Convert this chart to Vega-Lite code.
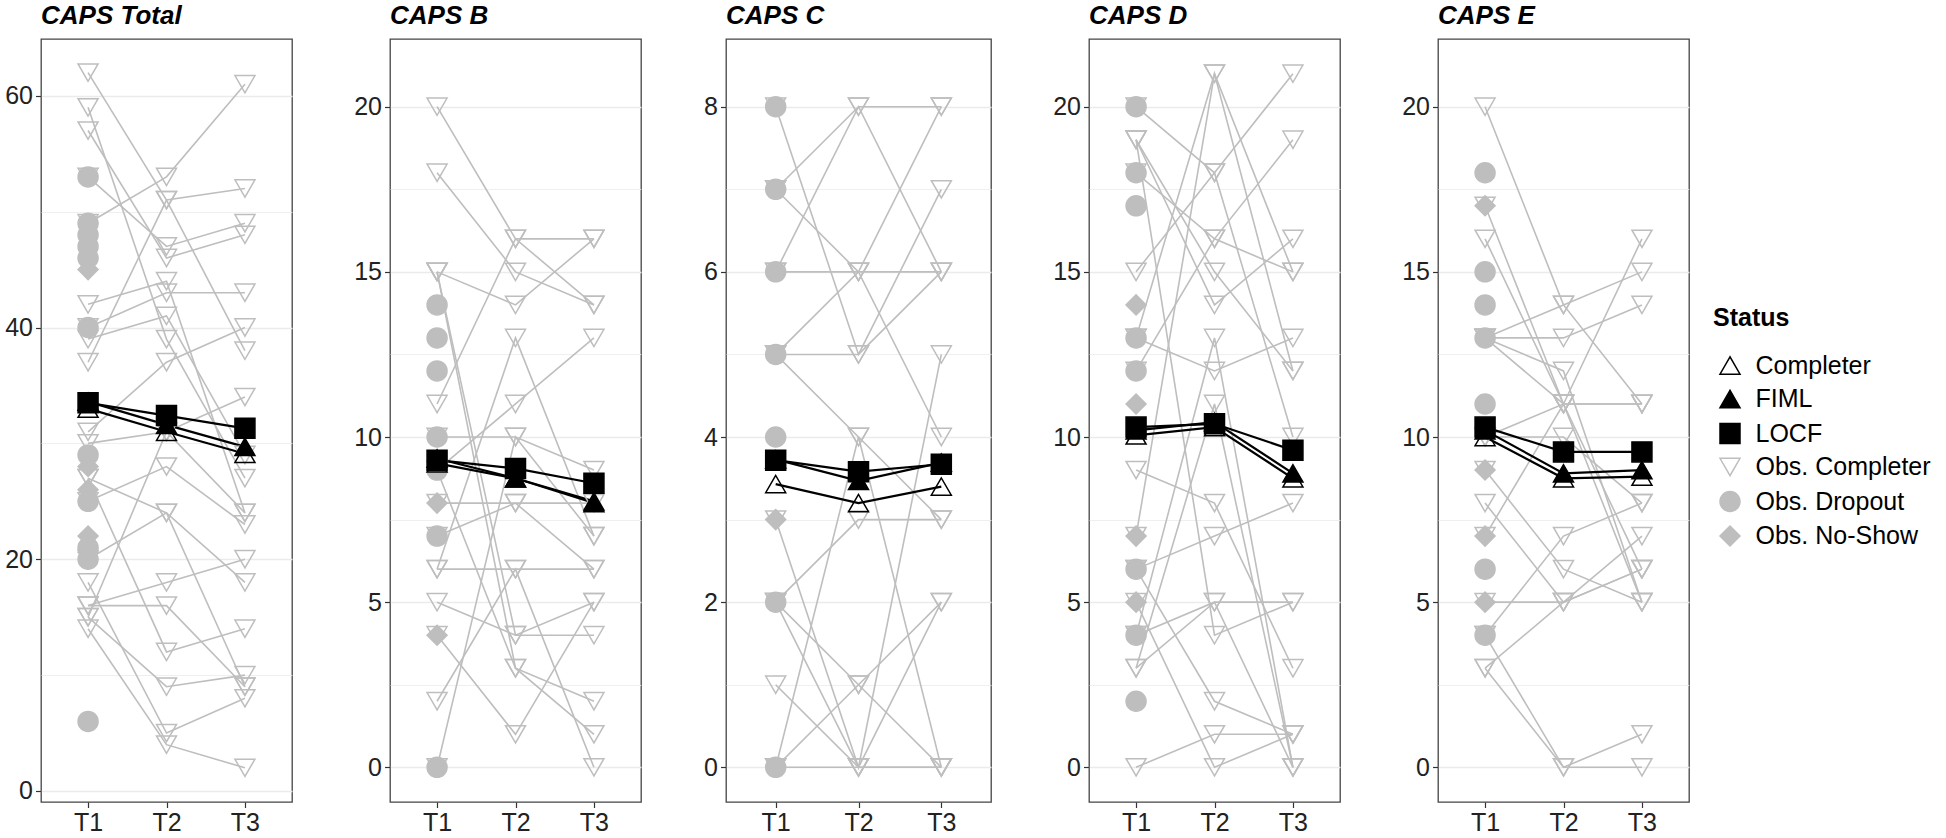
{
"$schema": "https://vega.github.io/schema/vega-lite/v6.json",
"padding": {"left": 4, "top": 2, "right": 0, "bottom": 0},
"background": "white",
"datasets": {"d": [
{"m":"CAPS Total","s":"Obs. Completer","id":"t1","T1":62,"T2":51,"T3":38},
{"m":"CAPS Total","s":"Obs. Completer","id":"t2","T1":59,"T2":39,"T3":27},
{"m":"CAPS Total","s":"Obs. Completer","id":"t3","T1":57,"T2":46,"T3":48},
{"m":"CAPS Total","s":"Obs. Completer","id":"t4","T1":53,"T2":47,"T3":49},
{"m":"CAPS Total","s":"Obs. Completer","id":"t5","T1":49,"T2":53,"T3":61},
{"m":"CAPS Total","s":"Obs. Completer","id":"t6","T1":42,"T2":44,"T3":24},
{"m":"CAPS Total","s":"Obs. Completer","id":"t7","T1":40,"T2":43,"T3":43},
{"m":"CAPS Total","s":"Obs. Completer","id":"t8","T1":39,"T2":41,"T3":29},
{"m":"CAPS Total","s":"Obs. Completer","id":"t9","T1":37,"T2":51,"T3":52},
{"m":"CAPS Total","s":"Obs. Completer","id":"t10","T1":31,"T2":37,"T3":40},
{"m":"CAPS Total","s":"Obs. Completer","id":"t11","T1":30,"T2":31,"T3":34},
{"m":"CAPS Total","s":"Obs. Completer","id":"t12","T1":27,"T2":24,"T3":18},
{"m":"CAPS Total","s":"Obs. Completer","id":"t13","T1":25,"T2":28,"T3":23},
{"m":"CAPS Total","s":"Obs. Completer","id":"t14","T1":20,"T2":24,"T3":9},
{"m":"CAPS Total","s":"Obs. Completer","id":"t15","T1":27,"T2":12,"T3":14},
{"m":"CAPS Total","s":"Obs. Completer","id":"t16","T1":18,"T2":5,"T3":8},
{"m":"CAPS Total","s":"Obs. Completer","id":"t17","T1":16,"T2":16,"T3":9},
{"m":"CAPS Total","s":"Obs. Completer","id":"t18","T1":16,"T2":18,"T3":20},
{"m":"CAPS Total","s":"Obs. Completer","id":"t19","T1":15,"T2":9,"T3":10},
{"m":"CAPS Total","s":"Obs. Completer","id":"t20","T1":14,"T2":4,"T3":2},
{"m":"CAPS Total","s":"Obs. Completer","id":"t21","T1":15,"T2":31,"T3":24},
{"m":"CAPS Total","s":"Obs. Dropout","id":"td1","T1":53},
{"m":"CAPS Total","s":"Obs. Dropout","id":"td2","T1":49},
{"m":"CAPS Total","s":"Obs. Dropout","id":"td3","T1":48},
{"m":"CAPS Total","s":"Obs. Dropout","id":"td4","T1":47},
{"m":"CAPS Total","s":"Obs. Dropout","id":"td5","T1":46},
{"m":"CAPS Total","s":"Obs. Dropout","id":"td6","T1":40},
{"m":"CAPS Total","s":"Obs. Dropout","id":"td7","T1":29},
{"m":"CAPS Total","s":"Obs. Dropout","id":"td8","T1":25},
{"m":"CAPS Total","s":"Obs. Dropout","id":"td9","T1":21},
{"m":"CAPS Total","s":"Obs. Dropout","id":"td10","T1":20},
{"m":"CAPS Total","s":"Obs. Dropout","id":"td11","T1":6},
{"m":"CAPS Total","s":"Obs. No-Show","id":"tn1","T1":45},
{"m":"CAPS Total","s":"Obs. No-Show","id":"tn2","T1":28},
{"m":"CAPS Total","s":"Obs. No-Show","id":"tn3","T1":26},
{"m":"CAPS Total","s":"Obs. No-Show","id":"tn4","T1":22},
{"m":"CAPS Total","s":"Obs. No-Show","id":"tn5","T1":20.6},
{"m":"CAPS Total","s":"Completer","id":"Completer","T1":33.0,"T2":31.0,"T3":29.1},
{"m":"CAPS Total","s":"FIML","id":"FIML","T1":33.6,"T2":31.6,"T3":29.7},
{"m":"CAPS Total","s":"LOCF","id":"LOCF","T1":33.5,"T2":32.4,"T3":31.3},

{"m":"CAPS B","s":"Obs. Completer","id":"b1","T1":20,"T2":16,"T3":14},
{"m":"CAPS B","s":"Obs. Completer","id":"b2","T1":18,"T2":15,"T3":14},
{"m":"CAPS B","s":"Obs. Completer","id":"b3","T1":15,"T2":14,"T3":16},
{"m":"CAPS B","s":"Obs. Completer","id":"b4","T1":11,"T2":16,"T3":16},
{"m":"CAPS B","s":"Obs. Completer","id":"b5","T1":15,"T2":3,"T3":2},
{"m":"CAPS B","s":"Obs. Completer","id":"b6","T1":15,"T2":4,"T3":4},
{"m":"CAPS B","s":"Obs. Completer","id":"b7","T1":10,"T2":10,"T3":9},
{"m":"CAPS B","s":"Obs. Completer","id":"b8","T1":8,"T2":8,"T3":8},
{"m":"CAPS B","s":"Obs. Completer","id":"b9","T1":7,"T2":8,"T3":6},
{"m":"CAPS B","s":"Obs. Completer","id":"b10","T1":6,"T2":6,"T3":6},
{"m":"CAPS B","s":"Obs. Completer","id":"b11","T1":5,"T2":4,"T3":5},
{"m":"CAPS B","s":"Obs. Completer","id":"b12","T1":4,"T2":1,"T3":5},
{"m":"CAPS B","s":"Obs. Completer","id":"b13","T1":2,"T2":6,"T3":0},
{"m":"CAPS B","s":"Obs. Completer","id":"b14","T1":0,"T2":10,"T3":7},
{"m":"CAPS B","s":"Obs. Completer","id":"b15","T1":9,"T2":3,"T3":1},
{"m":"CAPS B","s":"Obs. Completer","id":"b16","T1":9,"T2":11,"T3":13},
{"m":"CAPS B","s":"Obs. Completer","id":"b17","T1":6,"T2":13,"T3":7},
{"m":"CAPS B","s":"Obs. Dropout","id":"bd1","T1":14},
{"m":"CAPS B","s":"Obs. Dropout","id":"bd2","T1":13},
{"m":"CAPS B","s":"Obs. Dropout","id":"bd3","T1":12},
{"m":"CAPS B","s":"Obs. Dropout","id":"bd4","T1":10},
{"m":"CAPS B","s":"Obs. Dropout","id":"bd5","T1":9},
{"m":"CAPS B","s":"Obs. Dropout","id":"bd6","T1":7},
{"m":"CAPS B","s":"Obs. Dropout","id":"bd7","T1":0},
{"m":"CAPS B","s":"Obs. No-Show","id":"bn1","T1":8},
{"m":"CAPS B","s":"Obs. No-Show","id":"bn2","T1":4},
{"m":"CAPS B","s":"Completer","id":"Completer","T1":9.2,"T2":8.75,"T3":8.05},
{"m":"CAPS B","s":"FIML","id":"FIML","T1":9.35,"T2":8.75,"T3":8.0},
{"m":"CAPS B","s":"LOCF","id":"LOCF","T1":9.3,"T2":9.05,"T3":8.6},

{"m":"CAPS C","s":"Obs. Completer","id":"c1","T1":8,"T2":5,"T3":7},
{"m":"CAPS C","s":"Obs. Completer","id":"c2","T1":7,"T2":8,"T3":8},
{"m":"CAPS C","s":"Obs. Completer","id":"c3","T1":7,"T2":6,"T3":4},
{"m":"CAPS C","s":"Obs. Completer","id":"c4","T1":6,"T2":8,"T3":6},
{"m":"CAPS C","s":"Obs. Completer","id":"c5","T1":6,"T2":6,"T3":6},
{"m":"CAPS C","s":"Obs. Completer","id":"c6","T1":5,"T2":5,"T3":6},
{"m":"CAPS C","s":"Obs. Completer","id":"c7","T1":5,"T2":6,"T3":8},
{"m":"CAPS C","s":"Obs. Completer","id":"c8","T1":5,"T2":4,"T3":3},
{"m":"CAPS C","s":"Obs. Completer","id":"c9","T1":3,"T2":0,"T3":5},
{"m":"CAPS C","s":"Obs. Completer","id":"c10","T1":2,"T2":3,"T3":3},
{"m":"CAPS C","s":"Obs. Completer","id":"c11","T1":2,"T2":0,"T3":0},
{"m":"CAPS C","s":"Obs. Completer","id":"c12","T1":2,"T2":1,"T3":0},
{"m":"CAPS C","s":"Obs. Completer","id":"c13","T1":1,"T2":0,"T3":2},
{"m":"CAPS C","s":"Obs. Completer","id":"c14","T1":0,"T2":0,"T3":0},
{"m":"CAPS C","s":"Obs. Completer","id":"c15","T1":0,"T2":1,"T3":2},
{"m":"CAPS C","s":"Obs. Completer","id":"c16","T1":0,"T2":4,"T3":0},
{"m":"CAPS C","s":"Obs. Dropout","id":"cd1","T1":8},
{"m":"CAPS C","s":"Obs. Dropout","id":"cd2","T1":7},
{"m":"CAPS C","s":"Obs. Dropout","id":"cd3","T1":6},
{"m":"CAPS C","s":"Obs. Dropout","id":"cd4","T1":5},
{"m":"CAPS C","s":"Obs. Dropout","id":"cd5","T1":4},
{"m":"CAPS C","s":"Obs. Dropout","id":"cd6","T1":2},
{"m":"CAPS C","s":"Obs. Dropout","id":"cd7","T1":0},
{"m":"CAPS C","s":"Obs. No-Show","id":"cn1","T1":3},
{"m":"CAPS C","s":"Completer","id":"Completer","T1":3.43,"T2":3.2,"T3":3.4},
{"m":"CAPS C","s":"FIML","id":"FIML","T1":3.73,"T2":3.47,"T3":3.69},
{"m":"CAPS C","s":"LOCF","id":"LOCF","T1":3.72,"T2":3.58,"T3":3.67},

{"m":"CAPS D","s":"Obs. Completer","id":"d1","T1":15,"T2":18,"T3":21},
{"m":"CAPS D","s":"Obs. Completer","id":"d2","T1":20,"T2":18,"T3":10},
{"m":"CAPS D","s":"Obs. Completer","id":"d3","T1":19,"T2":14,"T3":16},
{"m":"CAPS D","s":"Obs. Completer","id":"d4","T1":18,"T2":16,"T3":15},
{"m":"CAPS D","s":"Obs. Completer","id":"d5","T1":19,"T2":15,"T3":12},
{"m":"CAPS D","s":"Obs. Completer","id":"d6","T1":13,"T2":21,"T3":12},
{"m":"CAPS D","s":"Obs. Completer","id":"d7","T1":12,"T2":16,"T3":19},
{"m":"CAPS D","s":"Obs. Completer","id":"d8","T1":13,"T2":12,"T3":13},
{"m":"CAPS D","s":"Obs. Completer","id":"d9","T1":9,"T2":8,"T3":3},
{"m":"CAPS D","s":"Obs. Completer","id":"d10","T1":6,"T2":7,"T3":8},
{"m":"CAPS D","s":"Obs. Completer","id":"d11","T1":5,"T2":0,"T3":1},
{"m":"CAPS D","s":"Obs. Completer","id":"d12","T1":4,"T2":5,"T3":5},
{"m":"CAPS D","s":"Obs. Completer","id":"d13","T1":3,"T2":5,"T3":0},
{"m":"CAPS D","s":"Obs. Completer","id":"d14","T1":3,"T2":11,"T3":0},
{"m":"CAPS D","s":"Obs. Completer","id":"d15","T1":0,"T2":1,"T3":1},
{"m":"CAPS D","s":"Obs. Completer","id":"d16","T1":6,"T2":2,"T3":1},
{"m":"CAPS D","s":"Obs. Completer","id":"d17","T1":4,"T2":13,"T3":0},
{"m":"CAPS D","s":"Obs. Completer","id":"d18","T1":19,"T2":4,"T3":5},
{"m":"CAPS D","s":"Obs. Completer","id":"d19","T1":7,"T2":21,"T3":15},
{"m":"CAPS D","s":"Obs. Dropout","id":"dd1","T1":20},
{"m":"CAPS D","s":"Obs. Dropout","id":"dd2","T1":18},
{"m":"CAPS D","s":"Obs. Dropout","id":"dd3","T1":17},
{"m":"CAPS D","s":"Obs. Dropout","id":"dd4","T1":13},
{"m":"CAPS D","s":"Obs. Dropout","id":"dd5","T1":12},
{"m":"CAPS D","s":"Obs. Dropout","id":"dd6","T1":6},
{"m":"CAPS D","s":"Obs. Dropout","id":"dd7","T1":4},
{"m":"CAPS D","s":"Obs. Dropout","id":"dd8","T1":2},
{"m":"CAPS D","s":"Obs. No-Show","id":"dn1","T1":14},
{"m":"CAPS D","s":"Obs. No-Show","id":"dn2","T1":11},
{"m":"CAPS D","s":"Obs. No-Show","id":"dn3","T1":7},
{"m":"CAPS D","s":"Obs. No-Show","id":"dn4","T1":5},
{"m":"CAPS D","s":"Completer","id":"Completer","T1":10.05,"T2":10.3,"T3":8.75},
{"m":"CAPS D","s":"FIML","id":"FIML","T1":10.2,"T2":10.45,"T3":8.9},
{"m":"CAPS D","s":"LOCF","id":"LOCF","T1":10.3,"T2":10.4,"T3":9.6},

{"m":"CAPS E","s":"Obs. Completer","id":"e1","T1":20,"T2":14,"T3":11},
{"m":"CAPS E","s":"Obs. Completer","id":"e2","T1":17,"T2":11,"T3":5},
{"m":"CAPS E","s":"Obs. Completer","id":"e3","T1":16,"T2":11,"T3":6},
{"m":"CAPS E","s":"Obs. Completer","id":"e4","T1":13,"T2":14,"T3":15},
{"m":"CAPS E","s":"Obs. Completer","id":"e5","T1":13,"T2":13,"T3":14},
{"m":"CAPS E","s":"Obs. Completer","id":"e6","T1":13,"T2":11,"T3":11},
{"m":"CAPS E","s":"Obs. Completer","id":"e7","T1":10,"T2":11,"T3":16},
{"m":"CAPS E","s":"Obs. Completer","id":"e8","T1":10,"T2":10,"T3":8},
{"m":"CAPS E","s":"Obs. Completer","id":"e9","T1":9,"T2":6,"T3":5},
{"m":"CAPS E","s":"Obs. Completer","id":"e10","T1":8,"T2":5,"T3":6},
{"m":"CAPS E","s":"Obs. Completer","id":"e11","T1":7,"T2":11,"T3":11},
{"m":"CAPS E","s":"Obs. Completer","id":"e12","T1":5,"T2":5,"T3":6},
{"m":"CAPS E","s":"Obs. Completer","id":"e13","T1":4,"T2":7,"T3":8},
{"m":"CAPS E","s":"Obs. Completer","id":"e14","T1":4,"T2":0,"T3":1},
{"m":"CAPS E","s":"Obs. Completer","id":"e15","T1":3,"T2":5,"T3":7},
{"m":"CAPS E","s":"Obs. Completer","id":"e16","T1":3,"T2":0,"T3":0},
{"m":"CAPS E","s":"Obs. Completer","id":"e17","T1":13,"T2":12,"T3":5},
{"m":"CAPS E","s":"Obs. Dropout","id":"ed1","T1":18},
{"m":"CAPS E","s":"Obs. Dropout","id":"ed2","T1":15},
{"m":"CAPS E","s":"Obs. Dropout","id":"ed3","T1":14},
{"m":"CAPS E","s":"Obs. Dropout","id":"ed4","T1":13},
{"m":"CAPS E","s":"Obs. Dropout","id":"ed5","T1":11},
{"m":"CAPS E","s":"Obs. Dropout","id":"ed6","T1":6},
{"m":"CAPS E","s":"Obs. Dropout","id":"ed7","T1":4},
{"m":"CAPS E","s":"Obs. No-Show","id":"en1","T1":17},
{"m":"CAPS E","s":"Obs. No-Show","id":"en2","T1":9},
{"m":"CAPS E","s":"Obs. No-Show","id":"en3","T1":7},
{"m":"CAPS E","s":"Obs. No-Show","id":"en4","T1":5},
{"m":"CAPS E","s":"Completer","id":"Completer","T1":10.0,"T2":8.75,"T3":8.8},
{"m":"CAPS E","s":"FIML","id":"FIML","T1":10.2,"T2":8.9,"T3":9.0},
{"m":"CAPS E","s":"LOCF","id":"LOCF","T1":10.3,"T2":9.55,"T3":9.55}
]},
"data": {"name": "d"},
"spacing": 60,
"hconcat": [
{
 "title": "CAPS Total",
 "width": 251, "height": 763,
 "transform": [{"filter": "datum.m === 'CAPS Total'"}, {"fold": ["T1","T2","T3"], "as": ["t","v"]}, {"filter": "isValid(datum.v)"}],
 "encoding": {
  "x": {"field": "t", "type": "ordinal", "scale": {"type": "point", "padding": 0.6, "domain": ["T1","T2","T3"]}, "axis": {"title": null, "labelAngle": 0}},
  "y": {"field": "v", "type": "quantitative", "scale": {"domain": [-0.95, 64.9], "nice": false, "zero": false},
        "axis": {"title": null, "values": [0,10,20,30,40,50,60], "labelExpr": "datum.value % 20 === 0 ? datum.label : ''",
                 "tickOpacity": {"condition": {"test": "datum.value % 20 !== 0", "value": 0}, "value": 1},
                 "gridWidth": {"condition": {"test": "datum.value % 20 !== 0", "value": 0.8}, "value": 1.5}}}
 },
 "layer": [
  {"transform": [{"filter": "datum.s === 'Obs. Completer'"}], "mark": {"type": "line", "color": "#BEBEBE", "strokeWidth": 1.6}, "encoding": {"detail": {"field": "id", "type": "nominal"}}},
  {"transform": [{"filter": "indexof(datum.s, 'Obs.') < 0"}], "mark": {"type": "line", "color": "#000000", "strokeWidth": 2.2}, "encoding": {"detail": {"field": "s", "type": "nominal"}}},
  {"mark": {"type": "point", "opacity": 1, "strokeWidth": 1.5},
   "encoding": {
    "shape": {"field": "s", "type": "nominal", "scale": {"domain": ["Completer","FIML","LOCF","Obs. Completer","Obs. Dropout","Obs. No-Show"], "range": ["triangle-up","triangle-up","square","triangle-down","circle","diamond"]}, "legend": {"title": "Status", "orient": "none", "legendX": 1672, "legendY": 267}},
    "fill": {"field": "s", "type": "nominal", "scale": {"domain": ["Completer","FIML","LOCF","Obs. Completer","Obs. Dropout","Obs. No-Show"], "range": ["transparent","#000000","#000000","transparent","#BEBEBE","#BEBEBE"]}, "legend": {"title": "Status", "orient": "none", "legendX": 1672, "legendY": 267}},
    "stroke": {"field": "s", "type": "nominal", "scale": {"domain": ["Completer","FIML","LOCF","Obs. Completer","Obs. Dropout","Obs. No-Show"], "range": ["#000000","#000000","#000000","#BEBEBE","#BEBEBE","#BEBEBE"]}, "legend": {"title": "Status", "orient": "none", "legendX": 1672, "legendY": 267}},
    "size": {"field": "s", "type": "nominal", "scale": {"domain": ["Completer","FIML","LOCF","Obs. Completer","Obs. Dropout","Obs. No-Show"], "range": [400,400,230,400,250,130]}, "legend": {"title": "Status", "orient": "none", "legendX": 1672, "legendY": 267}}
   }}
 ]
},
{
 "title": "CAPS B",
 "width": 251, "height": 763,
 "transform": [{"filter": "datum.m === 'CAPS B'"}, {"fold": ["T1","T2","T3"], "as": ["t","v"]}, {"filter": "isValid(datum.v)"}],
 "encoding": {
  "x": {"field": "t", "type": "ordinal", "scale": {"type": "point", "padding": 0.6, "domain": ["T1","T2","T3"]}, "axis": {"title": null, "labelAngle": 0}},
  "y": {"field": "v", "type": "quantitative", "scale": {"domain": [-1.05, 22.05], "nice": false, "zero": false},
        "axis": {"title": null, "values": [0,2.5,5,7.5,10,12.5,15,17.5,20], "labelExpr": "datum.value % 5 === 0 ? datum.label : ''",
                 "tickOpacity": {"condition": {"test": "datum.value % 5 !== 0", "value": 0}, "value": 1},
                 "gridWidth": {"condition": {"test": "datum.value % 5 !== 0", "value": 0.8}, "value": 1.5}}}
 },
 "layer": [
  {"transform": [{"filter": "datum.s === 'Obs. Completer'"}], "mark": {"type": "line", "color": "#BEBEBE", "strokeWidth": 1.6}, "encoding": {"detail": {"field": "id", "type": "nominal"}}},
  {"transform": [{"filter": "indexof(datum.s, 'Obs.') < 0"}], "mark": {"type": "line", "color": "#000000", "strokeWidth": 2.2}, "encoding": {"detail": {"field": "s", "type": "nominal"}}},
  {"mark": {"type": "point", "opacity": 1, "strokeWidth": 1.5},
   "encoding": {
    "shape": {"field": "s", "type": "nominal", "scale": {"domain": ["Completer","FIML","LOCF","Obs. Completer","Obs. Dropout","Obs. No-Show"], "range": ["triangle-up","triangle-up","square","triangle-down","circle","diamond"]}, "legend": {"title": "Status", "orient": "none", "legendX": 1672, "legendY": 267}},
    "fill": {"field": "s", "type": "nominal", "scale": {"domain": ["Completer","FIML","LOCF","Obs. Completer","Obs. Dropout","Obs. No-Show"], "range": ["transparent","#000000","#000000","transparent","#BEBEBE","#BEBEBE"]}, "legend": {"title": "Status", "orient": "none", "legendX": 1672, "legendY": 267}},
    "stroke": {"field": "s", "type": "nominal", "scale": {"domain": ["Completer","FIML","LOCF","Obs. Completer","Obs. Dropout","Obs. No-Show"], "range": ["#000000","#000000","#000000","#BEBEBE","#BEBEBE","#BEBEBE"]}, "legend": {"title": "Status", "orient": "none", "legendX": 1672, "legendY": 267}},
    "size": {"field": "s", "type": "nominal", "scale": {"domain": ["Completer","FIML","LOCF","Obs. Completer","Obs. Dropout","Obs. No-Show"], "range": [400,400,230,400,250,130]}, "legend": {"title": "Status", "orient": "none", "legendX": 1672, "legendY": 267}}
   }}
 ]
},
{
 "title": "CAPS C",
 "width": 265, "height": 763,
 "transform": [{"filter": "datum.m === 'CAPS C'"}, {"fold": ["T1","T2","T3"], "as": ["t","v"]}, {"filter": "isValid(datum.v)"}],
 "encoding": {
  "x": {"field": "t", "type": "ordinal", "scale": {"type": "point", "padding": 0.6, "domain": ["T1","T2","T3"]}, "axis": {"title": null, "labelAngle": 0}},
  "y": {"field": "v", "type": "quantitative", "scale": {"domain": [-0.42, 8.82], "nice": false, "zero": false},
        "axis": {"title": null, "values": [0,1,2,3,4,5,6,7,8], "labelExpr": "datum.value % 2 === 0 ? datum.label : ''",
                 "tickOpacity": {"condition": {"test": "datum.value % 2 !== 0", "value": 0}, "value": 1},
                 "gridWidth": {"condition": {"test": "datum.value % 2 !== 0", "value": 0.8}, "value": 1.5}}}
 },
 "layer": [
  {"transform": [{"filter": "datum.s === 'Obs. Completer'"}], "mark": {"type": "line", "color": "#BEBEBE", "strokeWidth": 1.6}, "encoding": {"detail": {"field": "id", "type": "nominal"}}},
  {"transform": [{"filter": "indexof(datum.s, 'Obs.') < 0"}], "mark": {"type": "line", "color": "#000000", "strokeWidth": 2.2}, "encoding": {"detail": {"field": "s", "type": "nominal"}}},
  {"mark": {"type": "point", "opacity": 1, "strokeWidth": 1.5},
   "encoding": {
    "shape": {"field": "s", "type": "nominal", "scale": {"domain": ["Completer","FIML","LOCF","Obs. Completer","Obs. Dropout","Obs. No-Show"], "range": ["triangle-up","triangle-up","square","triangle-down","circle","diamond"]}, "legend": {"title": "Status", "orient": "none", "legendX": 1672, "legendY": 267}},
    "fill": {"field": "s", "type": "nominal", "scale": {"domain": ["Completer","FIML","LOCF","Obs. Completer","Obs. Dropout","Obs. No-Show"], "range": ["transparent","#000000","#000000","transparent","#BEBEBE","#BEBEBE"]}, "legend": {"title": "Status", "orient": "none", "legendX": 1672, "legendY": 267}},
    "stroke": {"field": "s", "type": "nominal", "scale": {"domain": ["Completer","FIML","LOCF","Obs. Completer","Obs. Dropout","Obs. No-Show"], "range": ["#000000","#000000","#000000","#BEBEBE","#BEBEBE","#BEBEBE"]}, "legend": {"title": "Status", "orient": "none", "legendX": 1672, "legendY": 267}},
    "size": {"field": "s", "type": "nominal", "scale": {"domain": ["Completer","FIML","LOCF","Obs. Completer","Obs. Dropout","Obs. No-Show"], "range": [400,400,230,400,250,130]}, "legend": {"title": "Status", "orient": "none", "legendX": 1672, "legendY": 267}}
   }}
 ]
},
{
 "title": "CAPS D",
 "width": 251, "height": 763,
 "transform": [{"filter": "datum.m === 'CAPS D'"}, {"fold": ["T1","T2","T3"], "as": ["t","v"]}, {"filter": "isValid(datum.v)"}],
 "encoding": {
  "x": {"field": "t", "type": "ordinal", "scale": {"type": "point", "padding": 0.6, "domain": ["T1","T2","T3"]}, "axis": {"title": null, "labelAngle": 0}},
  "y": {"field": "v", "type": "quantitative", "scale": {"domain": [-1.05, 22.05], "nice": false, "zero": false},
        "axis": {"title": null, "values": [0,2.5,5,7.5,10,12.5,15,17.5,20], "labelExpr": "datum.value % 5 === 0 ? datum.label : ''",
                 "tickOpacity": {"condition": {"test": "datum.value % 5 !== 0", "value": 0}, "value": 1},
                 "gridWidth": {"condition": {"test": "datum.value % 5 !== 0", "value": 0.8}, "value": 1.5}}}
 },
 "layer": [
  {"transform": [{"filter": "datum.s === 'Obs. Completer'"}], "mark": {"type": "line", "color": "#BEBEBE", "strokeWidth": 1.6}, "encoding": {"detail": {"field": "id", "type": "nominal"}}},
  {"transform": [{"filter": "indexof(datum.s, 'Obs.') < 0"}], "mark": {"type": "line", "color": "#000000", "strokeWidth": 2.2}, "encoding": {"detail": {"field": "s", "type": "nominal"}}},
  {"mark": {"type": "point", "opacity": 1, "strokeWidth": 1.5},
   "encoding": {
    "shape": {"field": "s", "type": "nominal", "scale": {"domain": ["Completer","FIML","LOCF","Obs. Completer","Obs. Dropout","Obs. No-Show"], "range": ["triangle-up","triangle-up","square","triangle-down","circle","diamond"]}, "legend": {"title": "Status", "orient": "none", "legendX": 1672, "legendY": 267}},
    "fill": {"field": "s", "type": "nominal", "scale": {"domain": ["Completer","FIML","LOCF","Obs. Completer","Obs. Dropout","Obs. No-Show"], "range": ["transparent","#000000","#000000","transparent","#BEBEBE","#BEBEBE"]}, "legend": {"title": "Status", "orient": "none", "legendX": 1672, "legendY": 267}},
    "stroke": {"field": "s", "type": "nominal", "scale": {"domain": ["Completer","FIML","LOCF","Obs. Completer","Obs. Dropout","Obs. No-Show"], "range": ["#000000","#000000","#000000","#BEBEBE","#BEBEBE","#BEBEBE"]}, "legend": {"title": "Status", "orient": "none", "legendX": 1672, "legendY": 267}},
    "size": {"field": "s", "type": "nominal", "scale": {"domain": ["Completer","FIML","LOCF","Obs. Completer","Obs. Dropout","Obs. No-Show"], "range": [400,400,230,400,250,130]}, "legend": {"title": "Status", "orient": "none", "legendX": 1672, "legendY": 267}}
   }}
 ]
},
{
 "title": "CAPS E",
 "width": 251, "height": 763,
 "transform": [{"filter": "datum.m === 'CAPS E'"}, {"fold": ["T1","T2","T3"], "as": ["t","v"]}, {"filter": "isValid(datum.v)"}],
 "encoding": {
  "x": {"field": "t", "type": "ordinal", "scale": {"type": "point", "padding": 0.6, "domain": ["T1","T2","T3"]}, "axis": {"title": null, "labelAngle": 0}},
  "y": {"field": "v", "type": "quantitative", "scale": {"domain": [-1.05, 22.05], "nice": false, "zero": false},
        "axis": {"title": null, "values": [0,2.5,5,7.5,10,12.5,15,17.5,20], "labelExpr": "datum.value % 5 === 0 ? datum.label : ''",
                 "tickOpacity": {"condition": {"test": "datum.value % 5 !== 0", "value": 0}, "value": 1},
                 "gridWidth": {"condition": {"test": "datum.value % 5 !== 0", "value": 0.8}, "value": 1.5}}}
 },
 "layer": [
  {"transform": [{"filter": "datum.s === 'Obs. Completer'"}], "mark": {"type": "line", "color": "#BEBEBE", "strokeWidth": 1.6}, "encoding": {"detail": {"field": "id", "type": "nominal"}}},
  {"transform": [{"filter": "indexof(datum.s, 'Obs.') < 0"}], "mark": {"type": "line", "color": "#000000", "strokeWidth": 2.2}, "encoding": {"detail": {"field": "s", "type": "nominal"}}},
  {"mark": {"type": "point", "opacity": 1, "strokeWidth": 1.5},
   "encoding": {
    "shape": {"field": "s", "type": "nominal", "scale": {"domain": ["Completer","FIML","LOCF","Obs. Completer","Obs. Dropout","Obs. No-Show"], "range": ["triangle-up","triangle-up","square","triangle-down","circle","diamond"]}, "legend": {"title": "Status", "orient": "none", "legendX": 1672, "legendY": 267}},
    "fill": {"field": "s", "type": "nominal", "scale": {"domain": ["Completer","FIML","LOCF","Obs. Completer","Obs. Dropout","Obs. No-Show"], "range": ["transparent","#000000","#000000","transparent","#BEBEBE","#BEBEBE"]}, "legend": {"title": "Status", "orient": "none", "legendX": 1672, "legendY": 267}},
    "stroke": {"field": "s", "type": "nominal", "scale": {"domain": ["Completer","FIML","LOCF","Obs. Completer","Obs. Dropout","Obs. No-Show"], "range": ["#000000","#000000","#000000","#BEBEBE","#BEBEBE","#BEBEBE"]}, "legend": {"title": "Status", "orient": "none", "legendX": 1672, "legendY": 267}},
    "size": {"field": "s", "type": "nominal", "scale": {"domain": ["Completer","FIML","LOCF","Obs. Completer","Obs. Dropout","Obs. No-Show"], "range": [400,400,230,400,250,130]}, "legend": {"title": "Status", "orient": "none", "legendX": 1672, "legendY": 267}}
   }}
 ]
}
],
"config": {
 "font": "Liberation Sans",
 "view": {"stroke": "#444444", "strokeWidth": 1.3},
 "axis": {"labelFont": "Liberation Sans", "labelFontSize": 25, "labelColor": "#222222", "tickColor": "#333333", "tickSize": 5.5, "tickWidth": 1.2, "labelPadding": 3, "domain": false, "gridColor": "#EBEBEB", "labelOverlap": false, "labelFlush": false},
 "legend": {"titleFont": "Liberation Sans", "titleFontSize": 25, "titleFontWeight": "bold", "titleColor": "#000000", "labelFont": "Liberation Sans", "labelFontSize": 25, "labelColor": "#000000", "rowPadding": 7.5, "titlePadding": 22, "symbolStrokeWidth": 1.5, "symbolOffset": 4.5, "labelOffset": 13, "padding": 0, "labelLimit": 400},
 "title": {"font": "Liberation Sans", "fontSize": 26, "fontStyle": "italic", "fontWeight": "bold", "anchor": "start", "frame": "group", "offset": 10, "color": "#000000"}
}
}
